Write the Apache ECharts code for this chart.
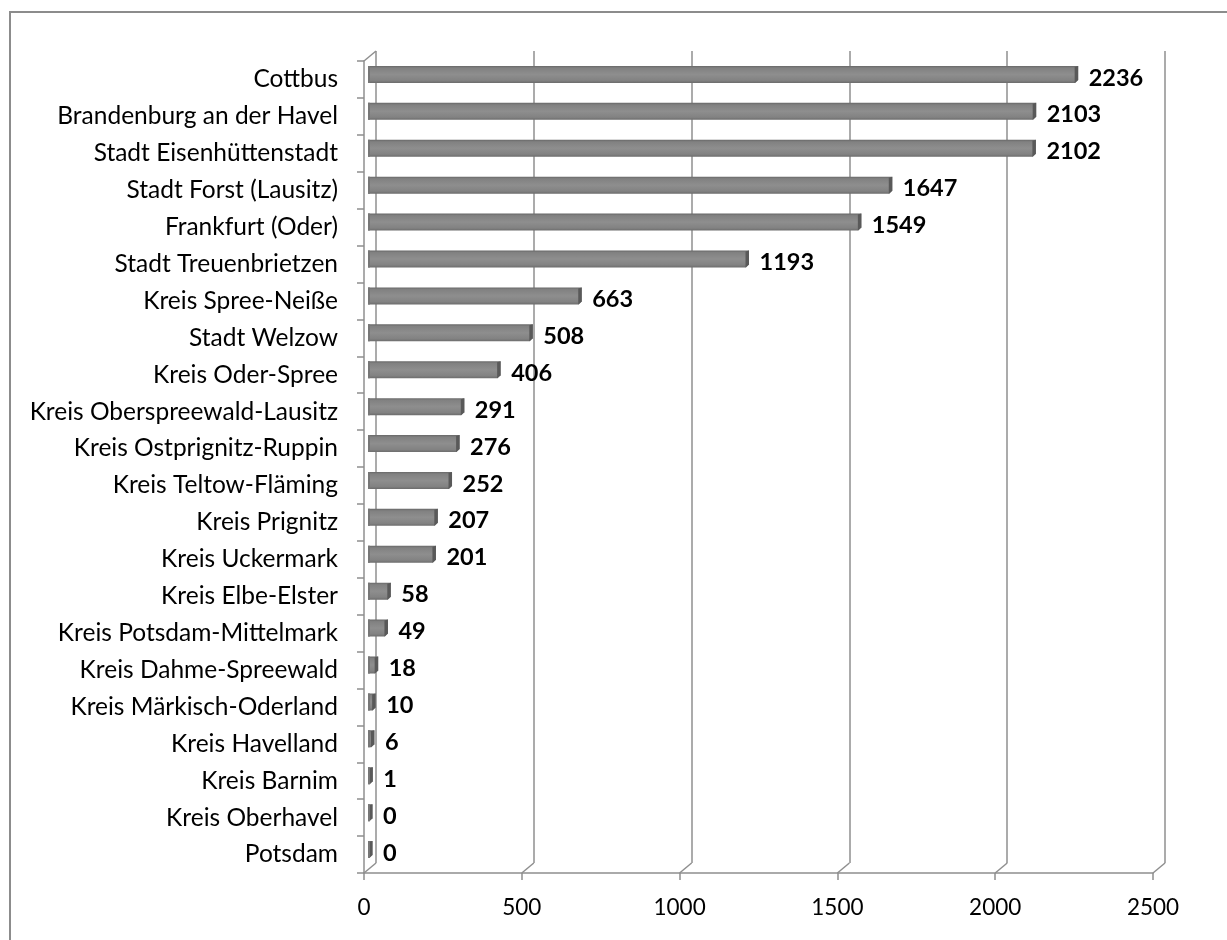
<!DOCTYPE html>
<html>
<head>
<meta charset="utf-8">
<script src="https://cdn.jsdelivr.net/npm/echarts@6/dist/echarts.min.js"></script>
<style>
html,body{margin:0;padding:0;background:#fff;}
#frame{position:absolute;left:9px;top:11px;width:1300px;height:1000px;border-left:2px solid #8c8c8c;border-top:2px solid #8c8c8c;}
#chart{position:absolute;left:0;top:0;width:1227px;height:940px;}
</style>
</head>
<body>
<div id="frame"></div>
<div id="chart"></div>
<script>
const categories = [
  'Cottbus','Brandenburg an der Havel','Stadt Eisenhüttenstadt','Stadt Forst (Lausitz)',
  'Frankfurt (Oder)','Stadt Treuenbrietzen','Kreis Spree-Neiße','Stadt Welzow',
  'Kreis Oder-Spree','Kreis Oberspreewald-Lausitz','Kreis Ostprignitz-Ruppin','Kreis Teltow-Fläming',
  'Kreis Prignitz','Kreis Uckermark','Kreis Elbe-Elster','Kreis Potsdam-Mittelmark',
  'Kreis Dahme-Spreewald','Kreis Märkisch-Oderland','Kreis Havelland','Kreis Barnim',
  'Kreis Oberhavel','Potsdam'
];
const values = [2236,2103,2102,1647,1549,1193,663,508,406,291,276,252,207,201,58,49,18,10,6,1,0,0];
const xTicks = [0,500,1000,1500,2000,2500];

const LINE = '#8f8f8f';
const DX = 12, DY = -10;
const FRONT = {left:364, top:61, width:789, height:812};

const chart = echarts.init(document.getElementById('chart'), null, {renderer:'canvas'});

function renderBar(params, api){
  const v = api.value(0), c = api.value(1);
  const p0 = api.coord([0, c]);
  const p1 = api.coord([v, c]);
  const cy = p1[1] - 5;
  const h = 17;
  const yT = cy - h/2, yB = cy + h/2;
  const xs = p0[0] + 4;
  const xe = Math.max(p1[0] + 8.5, xs + 4.5);
  const grad = new echarts.graphic.LinearGradient(0,0,0,1,[
    {offset:0,color:'#686868'},
    {offset:0.12,color:'#818181'},
    {offset:0.5,color:'#8e8e8e'},
    {offset:0.85,color:'#828282'},
    {offset:1,color:'#6c6c6c'}
  ]);
  return {
    type:'group',
    children:[
      {type:'polygon', shape:{points:[[xs,yT],[xe,yT],[xe,yB-3],[xe-3,yB],[xs,yB]]},
       style:{fill:grad}},
      {type:'polygon', shape:{points:[[xe-3.5,yT+1],[xe,yT],[xe,yB-3],[xe-3.5,yB]]},
       style:{fill:'#595959'}},
      {type:'polygon', shape:{points:[[xs,yT],[xs+2,yT],[xs+2,yB],[xs,yB]]},
       style:{fill:'#777777'}},
      {type:'text', x: xe + 10.5, y: cy + 3.5,
       style:{text:String(v), fill:'#000', font:'bold 23.5px Lato', verticalAlign:'middle', align:'left'}}
    ]
  };
}

function renderDiag(params, api){
  const v = api.value(0);
  const cs = params.coordSys;
  const x = api.coord([v, 0])[0];
  const bottom = cs.y + cs.height;
  const children = [
    {type:'line', shape:{x1:x, y1:bottom, x2:x+DX, y2:bottom+DY}, style:{stroke:LINE, lineWidth:1.5}}
  ];
  if (params.dataIndex === 0) {
    children.push({type:'line', shape:{x1:x, y1:cs.y, x2:x+DX, y2:cs.y+DY}, style:{stroke:LINE, lineWidth:1.5}});
  }
  return {type:'group', children};
}

const option = {
  animation:false,
  backgroundColor:'transparent',
  grid:[
    {left:FRONT.left, top:FRONT.top, width:FRONT.width, height:FRONT.height, containLabel:false},
    {left:FRONT.left+DX, top:FRONT.top+DY, width:FRONT.width, height:FRONT.height, containLabel:false}
  ],
  xAxis:[
    {type:'value', gridIndex:0, min:0, max:2500, interval:500,
     axisLine:{show:true, lineStyle:{color:LINE, width:1.5}},
     axisTick:{show:true, length:7, lineStyle:{color:LINE, width:1.5}},
     axisLabel:{color:'#000', fontFamily:'Lato', fontSize:22.5, margin:23, formatter: v => String(v)},
     splitLine:{show:false}},
    {type:'value', gridIndex:1, min:0, max:2500, interval:500,
     axisLine:{show:false}, axisTick:{show:false}, axisLabel:{show:false},
     splitLine:{show:true, lineStyle:{color:LINE, width:1.5}}}
  ],
  yAxis:[
    {type:'category', gridIndex:0, data:categories, inverse:true,
     axisLine:{show:true, lineStyle:{color:LINE, width:1.5}},
     axisTick:{show:true, length:7, inside:false, lineStyle:{color:LINE, width:1.5}},
     axisLabel:{color:'#000', fontFamily:'Lato', fontSize:24.5, margin:26},
     splitLine:{show:false}},
    {type:'category', gridIndex:1, data:categories, inverse:true, show:false}
  ],
  series:[
    {type:'custom', xAxisIndex:0, yAxisIndex:0, clip:false, z:1,
     data: xTicks.map(t => [t]), renderItem: renderDiag, silent:true},
    {type:'custom', xAxisIndex:0, yAxisIndex:0, clip:false, z:5,
     encode:{x:0, y:1},
     data: values.map((v,i) => [v, i]), renderItem: renderBar, silent:true}
  ]
};
chart.setOption(option);
</script>
</body>
</html>
